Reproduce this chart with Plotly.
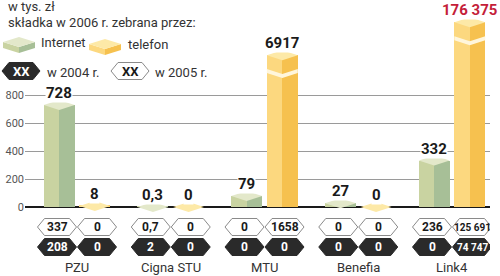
import math
import plotly.graph_objects as go

# ---------------- data ----------------
companies = ["PZU", "Cigna STU", "MTU", "Benefia", "Link4"]
internet_2006 = [728, 0.3, 79, 27, 332]
telefon_2006 = [8, 0, 6917, 0, 176375]
internet_2005 = [337, 0.7, 0, 0, 236]
telefon_2005 = [0, 0, 1658, 0, 125691]
internet_2004 = [208, 2, 0, 0, 0]
telefon_2004 = [0, 0, 0, 0, 74747]
y_ticks = [0, 200, 400, 600, 800]

# ---------------- geometry / style ----------------
W, H = 500, 276
ML, MR, MT, MB = 25, 10, 0, 62
PW, PH = W - ML - MR, H - MT - MB
U_PER_PX = 800 / 112.0
Y_MIN = -50
Y_MAX = Y_MIN + PH * U_PER_PX
X_PX = 93.75
X_MIN = -52 / X_PX
X_MAX = X_MIN + PW / X_PX
FONT = "Roboto"

IN_COL = ("#c9d3a1", "#a7bf97", "#e3e8ca")
TE_COL = ("#fcd87f", "#f6c14f", "#fde9a7")
OFF = 0.19
HW = 0.165
DH = 5 * U_PER_PX


def fmt(v):
    if v != int(v):
        return f"{v}".replace(".", ",")
    v = int(v)
    if v >= 10000:
        return f"{v:,}".replace(",", " ")
    return str(v)


def disp(v):
    # axis break: over-range bars are compressed above 800
    return v if v <= 800 else 928 + 167 * math.log10(v / 800)


def ppx(x):
    return (x - ML) / PW


def ppy(y):
    return (MT + PH - y) / PH


fig = go.Figure()
shapes = []
annots = []
vmax = max(max(internet_2006), max(telefon_2006))

for vals, off, cols in [(internet_2006, -OFF, IN_COL), (telefon_2006, OFF, TE_COL)]:
    xs = [i + off for i in range(len(companies))]
    ds = [disp(v) for v in vals]
    fig.add_trace(go.Bar(x=xs, y=ds, width=HW, offset=-HW, marker_color=cols[0],
                         marker_line_width=0, hoverinfo="skip", showlegend=False))
    fig.add_trace(go.Bar(x=xs, y=ds, width=HW, offset=0, marker_color=cols[1],
                         marker_line_width=0, hoverinfo="skip", showlegend=False))
    for x, v, d in zip(xs, vals, ds):
        top = d if v > 0 else 0
        shapes.append(dict(type="path", xref="x", yref="y",
                           path=f"M{x-HW},{top} L{x},{top+DH} L{x+HW},{top} L{x},{top-DH} Z",
                           fillcolor=cols[2], line=dict(width=0), layer="above"))
        if v > 800:
            b = d - 135
            t = 4 * U_PER_PX
            shapes.append(dict(type="path", xref="x", yref="y",
                               path=(f"M{x-HW},{b+DH} L{x},{b} L{x+HW},{b+DH} "
                                     f"L{x+HW},{b+DH-t} L{x},{b-t} L{x-HW},{b+DH-t} Z"),
                               fillcolor="#fff6dc", line=dict(width=0), layer="above"))
        annots.append(dict(x=x, y=top, xref="x", yref="y", text=f"<b>{fmt(v)}</b>",
                           showarrow=False, xanchor="center", yanchor="middle", yshift=12,
                           bgcolor="white", borderpad=0,
                           font=dict(family=FONT, size=15,
                                     color="#c41e3a" if v == vmax else "#1a1a1a")))

# ---------------- hex badges ----------------
HEX_W = 39 / X_PX
HEX_D = 7 / X_PX
HEX_H = 17 / PH


def hex_shape(cx, cy, dark, xref="x"):
    hw = HEX_W / 2 if xref == "x" else 19 / PW
    d = HEX_D if xref == "x" else 7 / PW
    h = HEX_H / 2
    path = (f"M{cx-hw},{cy} L{cx-hw+d},{cy+h} L{cx+hw-d},{cy+h} L{cx+hw},{cy} "
            f"L{cx+hw-d},{cy-h} L{cx-hw+d},{cy-h} Z")
    return dict(type="path", xref=xref, yref="paper", path=path,
                fillcolor="#2a2a2a" if dark else "white",
                line=dict(color="#2a2a2a" if dark else "#8a8a8a", width=1))


def ctext(x, y, s, size, color, xref="x", bold=True):
    annots.append(dict(x=x, y=y, xref=xref, yref="paper",
                       text=f"<b>{s}</b>" if bold else s,
                       showarrow=False, xanchor="center", yanchor="middle",
                       font=dict(family=FONT, size=size, color=color)))


HX_OFF = 20 / X_PX
row_y = [ppy(227), ppy(247)]
for vals, off in [(internet_2005, -HX_OFF), (telefon_2005, HX_OFF)]:
    for i, v in enumerate(vals):
        shapes.append(hex_shape(i + off, row_y[0], False))
        s = fmt(v)
        ctext(i + off, row_y[0], s, 12 if len(s) < 5 else 10, "#1a1a1a")
for vals, off in [(internet_2004, -HX_OFF), (telefon_2004, HX_OFF)]:
    for i, v in enumerate(vals):
        shapes.append(hex_shape(i + off, row_y[1], True))
        s = fmt(v)
        ctext(i + off, row_y[1], s, 12 if len(s) < 5 else 10, "white")

for i, c in enumerate(companies):
    ctext(i, ppy(267), c, 13, "#333333", bold=False)

# ---------------- legend (header) ----------------
def txt(x, y, s, size=13):
    annots.append(dict(x=ppx(x), y=ppy(y), xref="paper", yref="paper", text=s,
                       showarrow=False, xanchor="left", yanchor="middle",
                       font=dict(family=FONT, size=size, color="#333333")))


txt(6, 7, "w tys. zł")
txt(6, 23, "składka w 2006 r. zebrana przez:")
txt(39, 43, "Internet")
txt(126, 45, "telefon")
txt(45, 72, "w 2004 r.")
txt(153, 72, "w 2005 r.")


def box_icon(x0, y0, cols):
    w, t, dh = 32, 6, 5
    xc = x0 + w / 2
    faces = [
        ([(x0, y0 + dh), (xc, y0 + 2 * dh), (xc, y0 + 2 * dh + t), (x0, y0 + dh + t)], cols[0]),
        ([(xc, y0 + 2 * dh), (x0 + w, y0 + dh), (x0 + w, y0 + dh + t), (xc, y0 + 2 * dh + t)], cols[1]),
        ([(x0, y0 + dh), (xc, y0), (x0 + w, y0 + dh), (xc, y0 + 2 * dh)], cols[2]),
    ]
    for pts, col in faces:
        p = "M" + " L".join(f"{ppx(a)},{ppy(b)}" for a, b in pts) + " Z"
        shapes.append(dict(type="path", xref="paper", yref="paper", path=p,
                           fillcolor=col, line=dict(width=0)))


box_icon(3, 37, IN_COL)
box_icon(89, 39, TE_COL)

shapes.append(hex_shape(ppx(21), ppy(71), True, xref="paper"))
ctext(ppx(21), ppy(71), "XX", 13, "white", xref="paper")
shapes.append(hex_shape(ppx(130), ppy(71), False, xref="paper"))
ctext(ppx(130), ppy(71), "XX", 13, "#1a1a1a", xref="paper")

fig.update_layout(
    width=W, height=H, margin=dict(l=ML, r=MR, t=MT, b=MB),
    paper_bgcolor="white", plot_bgcolor="white",
    barmode="overlay", bargap=0, showlegend=False,
    shapes=shapes, annotations=annots,
    xaxis=dict(range=[X_MIN, X_MAX], visible=False, fixedrange=True),
    yaxis=dict(range=[Y_MIN, Y_MAX], tickvals=y_ticks, ticktext=[str(t) for t in y_ticks],
               showgrid=True, gridcolor="#9a9a9a", gridwidth=1,
               zeroline=True, zerolinecolor="#1a1a1a", zerolinewidth=2,
               showline=False, ticks="", tickfont=dict(family=FONT, size=11, color="#555555"),
               fixedrange=True),
)

fig.write_html("out.html")
